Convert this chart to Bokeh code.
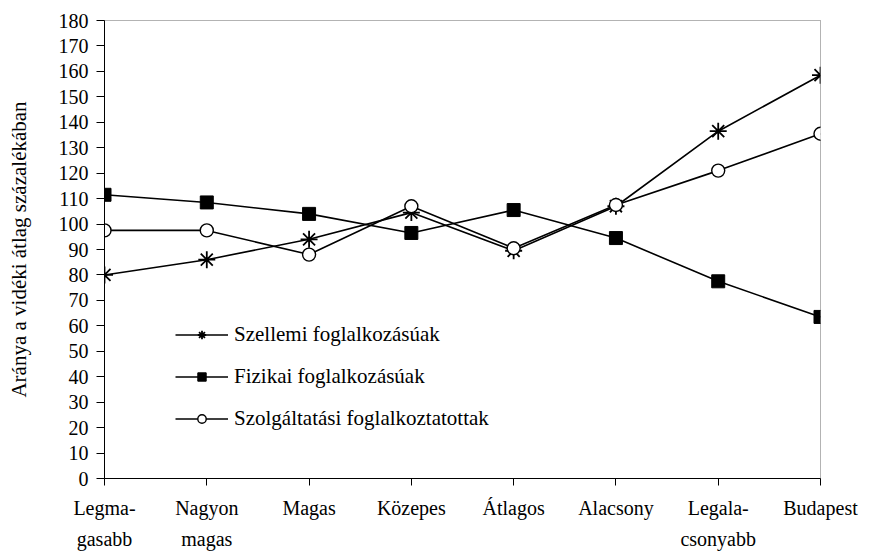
from bokeh.plotting import figure
from bokeh.models import (Range1d, FixedTicker, LinearAxis, Legend, LegendItem, BoxAnnotation)
from bokeh.embed import file_html
from bokeh.resources import INLINE

# ---- data ----
cat_line1 = ["Legma-", "Nagyon", "Magas", "Közepes", "Átlagos", "Alacsony", "Legala-", "Budapest"]
cat_line2 = ["gasabb", "magas", "", "", "", "", "csonyabb", ""]
x_idx = [0, 1, 2, 3, 4, 5, 6, 7]
szellemi = [80, 86, 94, 104.5, 89.5, 107, 136.5, 158.5]
fizikai = [111.5, 108.5, 104, 96.5, 105.5, 94.5, 77.5, 63.5]
szolgaltatasi = [97.5, 97.5, 88, 107, 90.5, 107.5, 121, 135.5]
y_ticks = list(range(0, 190, 10))
y_title = "Aránya a vidéki átlag százalékában"
names = ["Szellemi foglalkozásúak", "Fizikai foglalkozásúak", "Szolgáltatási foglalkoztatottak"]

FONT = "Liberation Serif"

p = figure(width=860, height=552, output_backend="svg", toolbar_location=None,
           x_range=Range1d(0, 7), y_range=Range1d(0, 180),
           min_border_left=104, min_border_right=40, min_border_top=20, min_border_bottom=74,
           x_axis_type=None, y_axis_type=None)
p.outline_line_color = "#666666"
p.outline_line_dash = "1 1"
p.outline_line_width = 1

# y axis
yax = LinearAxis(ticker=FixedTicker(ticks=y_ticks))
yax.axis_line_color = "black"
yax.major_tick_out = 8
yax.major_tick_in = 0
yax.minor_tick_line_color = None
yax.major_label_text_font = FONT
yax.major_label_text_font_size = "20px"
yax.major_label_text_color = "black"
yax.major_label_standoff = 8
yax.axis_label = y_title
yax.axis_label_text_font = FONT
yax.axis_label_text_font_size = "21px"
yax.axis_label_text_font_style = "normal"
yax.axis_label_text_color = "black"
yax.axis_label_standoff = 25
p.add_layout(yax, "left")

# x axis (first line)
xax = LinearAxis(ticker=FixedTicker(ticks=x_idx))
xax.major_label_overrides = {i: t for i, t in zip(x_idx, cat_line1)}
xax.axis_line_color = "black"
xax.major_tick_out = 7
xax.major_tick_in = 0
xax.minor_tick_line_color = None
xax.major_label_text_font = FONT
xax.major_label_text_font_size = "20px"
xax.major_label_text_color = "black"
xax.major_label_standoff = 11
p.add_layout(xax, "below")

# x axis (second line)
xax2 = LinearAxis(ticker=FixedTicker(ticks=x_idx))
xax2.major_label_overrides = {i: t for i, t in zip(x_idx, cat_line2)}
xax2.axis_line_color = None
xax2.major_tick_line_color = None
xax2.major_tick_out = 0
xax2.major_tick_in = 0
xax2.minor_tick_line_color = None
xax2.major_label_text_font = FONT
xax2.major_label_text_font_size = "20px"
xax2.major_label_text_color = "black"
xax2.major_label_standoff = 6
p.add_layout(xax2, "below")

# grid
p.ygrid.ticker = FixedTicker(ticks=y_ticks)
p.ygrid.grid_line_color = "#8a8a8a"
p.ygrid.grid_line_width = 1
p.xgrid.grid_line_color = None

# white box behind legend
box = BoxAnnotation(left=0.2, right=4.5, bottom=15, top=65,
                    fill_color="white", fill_alpha=1, line_color=None, level="underlay")
p.add_layout(box)

LW = 1.6
l1 = p.line(x_idx, szellemi, line_color="black", line_width=LW)
m1 = p.scatter(x_idx, szellemi, marker="asterisk", size=17, line_color="black", line_width=1.8)
l2 = p.line(x_idx, fizikai, line_color="black", line_width=LW)
m2 = p.scatter(x_idx, fizikai, marker="square", size=13, fill_color="black", line_color="black")
l3 = p.line(x_idx, szolgaltatasi, line_color="black", line_width=LW)
m3 = p.scatter(x_idx, szolgaltatasi, marker="circle", size=13, fill_color="white",
               line_color="black", line_width=1.4)

legend = Legend(items=[LegendItem(label=names[0], renderers=[l1, m1]),
                       LegendItem(label=names[1], renderers=[l2, m2]),
                       LegendItem(label=names[2], renderers=[l3, m3])],
                location=(71, 47), orientation="vertical")
legend.background_fill_alpha = 0
legend.border_line_color = None
legend.padding = 0
legend.margin = 0
legend.spacing = 17
legend.glyph_width = 53
legend.glyph_height = 21
legend.label_height = 21
legend.label_standoff = 6
legend.label_text_font = FONT
legend.label_text_font_size = "21px"
legend.label_text_color = "black"
p.add_layout(legend, "center")

open("out.html", "w").write(file_html(p, INLINE))
